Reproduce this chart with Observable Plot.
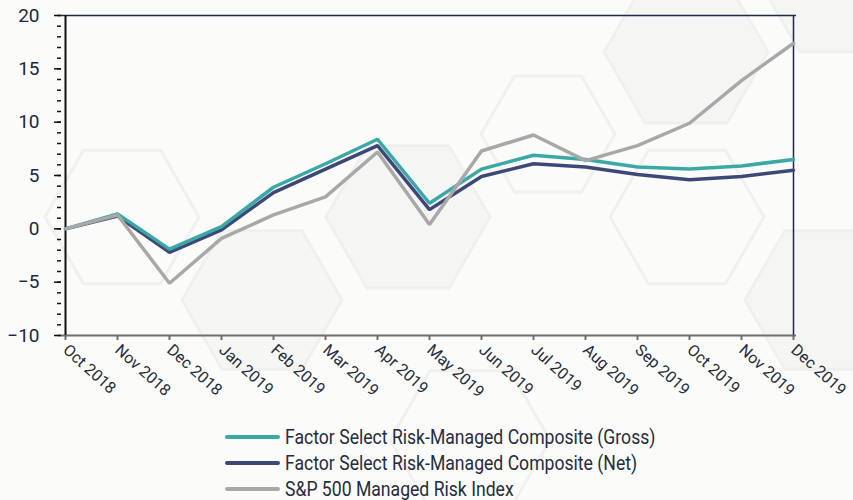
<!DOCTYPE html>
<html>
<head>
<meta charset="utf-8">
<script src="https://cdn.jsdelivr.net/npm/d3@7"></script>
<script src="https://cdn.jsdelivr.net/npm/@observablehq/plot@0.6"></script>
<style>
  html, body { margin: 0; padding: 0; background: #fbfbf9; }
  body { width: 853px; height: 500px; position: relative; overflow: hidden; font-family: Roboto, sans-serif; }
  #bg { position: absolute; left: 0; top: 0; z-index: 0; }
  #chart { position: absolute; left: 0; top: 0; z-index: 1; }
  #legend { position: absolute; left: 225px; top: 424px; z-index: 1; color: #262c3d; font-size: 20px; line-height: 26px; }
  .row { display: flex; align-items: center; height: 26px; white-space: nowrap; }
  .sw { width: 55px; height: 4px; border-radius: 2px; margin-right: 5px; flex: none; }
  .row span { display: inline-block; transform: scaleX(0.88); transform-origin: left center; }
</style>
</head>
<body>
<svg id="bg" width="853" height="500"></svg>
<div id="chart"></div>
<div id="legend"></div>
<script>
const months = ["Oct 2018","Nov 2018","Dec 2018","Jan 2019","Feb 2019","Mar 2019","Apr 2019","May 2019","Jun 2019","Jul 2019","Aug 2019","Sep 2019","Oct 2019","Nov 2019","Dec 2019"];
const gross = [0, 1.4, -1.9, 0.2, 3.9, 6.1, 8.4, 2.4, 5.6, 6.9, 6.5, 5.8, 5.6, 5.9, 6.5];
const net   = [0, 1.2, -2.2, -0.1, 3.4, 5.6, 7.8, 1.8, 4.9, 6.1, 5.8, 5.1, 4.6, 4.9, 5.5];
const spx   = [0, 1.3, -5.1, -0.9, 1.3, 3.0, 7.2, 0.4, 7.3, 8.8, 6.4, 7.8, 9.9, 13.9, 17.4];
const seriesNames = ["Factor Select Risk-Managed Composite (Gross)", "Factor Select Risk-Managed Composite (Net)", "S&P 500 Managed Risk Index"];
const seriesColors = ["#3aa9a6", "#3d4877", "#a8a8a8"];
const majorTicks = [-10, -5, 0, 5, 10, 15, 20];
const minorTicks = d3.range(-10, 21, 1);

// decorative background hexagons (page decoration, not data)
const hexes = [
  {cx: 122, cy: 217, r: 77, fill: "none"},
  {cx: 408, cy: 217, r: 82, fill: "#f5f5f4"},
  {cx: 548, cy: 134, r: 67, fill: "none"},
  {cx: 686, cy: 52, r: 82, fill: "#f5f5f4"},
  {cx: 687, cy: 217, r: 77, fill: "none"},
  {cx: 825, cy: 300, r: 80, fill: "#f5f5f4"},
  {cx: 262, cy: 300, r: 80, fill: "#f6f6f5"},
  {cx: 830, cy: 0, r: 60, fill: "#f5f5f4"},
  {cx: 470, cy: 440, r: 80, fill: "none"}
];
const bg = d3.select("#bg");
for (const h of hexes) {
  const pts = d3.range(6).map(i => {
    const a = Math.PI / 3 * i;
    return [h.cx + h.r * Math.cos(a), h.cy + h.r * Math.sin(a)];
  });
  bg.append("polygon").attr("points", pts.map(p => p.join(",")).join(" "))
    .attr("fill", h.fill).attr("stroke", "#f0f0ee").attr("stroke-width", 3);
}

const data = [];
[gross, net, spx].forEach((arr, s) => arr.forEach((v, i) => data.push({month: months[i], value: v, series: seriesNames[s]})));
const order = [1, 0, 2];

const chart = Plot.plot({
  width: 853,
  height: 410,
  marginLeft: 61,
  marginRight: 57,
  marginTop: 15,
  marginBottom: 75,
  style: {background: "transparent", fontFamily: "Roboto, sans-serif"},
  x: {type: "point", domain: months, padding: 0},
  y: {domain: [-10, 20]},
  marks: [
    Plot.ruleY([-10], {stroke: "#6f6f6f", strokeWidth: 2}),
    Plot.ruleY([20], {stroke: "#1f2a44", strokeWidth: 1.5}),
    Plot.ruleX([months[months.length - 1]], {stroke: "#1f2a44", strokeWidth: 1.5}),
    Plot.axisX({ticks: months, tickSize: 5, stroke: "#6f6f6f", strokeWidth: 2, tickRotate: 42, textAnchor: "start", tickPadding: 7, fontSize: 16, fill: "#262c3d", label: null}),
    Plot.axisY({ticks: minorTicks, tickSize: 4, tickFormat: () => "", stroke: "#111", strokeWidth: 1.5, label: null}),
    Plot.axisY({ticks: majorTicks, tickSize: 7, tickPadding: 15, fontSize: 19, fill: "#1f2740", stroke: "#111", strokeWidth: 1.5, label: null}),
    Plot.ruleX([months[0]], {stroke: "#111", strokeWidth: 2}),
    ...order.map(s => Plot.lineY(data.filter(d => d.series === seriesNames[s]), {x: "month", y: "value", stroke: seriesColors[s], strokeWidth: 3.5, strokeLinejoin: "miter"}))
  ]
});
document.getElementById("chart").appendChild(chart);

const legend = d3.select("#legend");
seriesNames.forEach((name, i) => {
  const row = legend.append("div").attr("class", "row");
  row.append("div").attr("class", "sw").style("background", seriesColors[i]);
  row.append("span").text(name);
});
</script>
</body>
</html>
